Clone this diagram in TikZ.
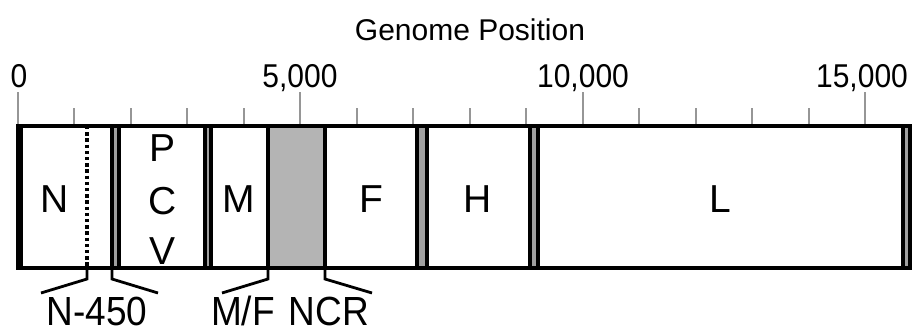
\documentclass[tikz,border=0pt]{standalone}
\usepackage{fontspec}
\setmainfont{Liberation Sans}
\usepackage{graphicx}
\definecolor{gapgray}{RGB}{160,160,160}
\definecolor{ncrgray}{RGB}{180,180,180}
\definecolor{tickgray}{RGB}{150,150,150}
\newcommand{\axisfont}{\fontsize{30}{34}\selectfont}
\newcommand{\genefont}{\fontsize{39}{44}\selectfont}
\newcommand{\lblfont}{\fontsize{37}{42}\selectfont}
\newcommand{\tall}[1]{\scalebox{1}[1.1]{#1}}
\begin{document}
\begin{tikzpicture}[x=1pt,y=-1pt,
  genebox/.style={draw=black, fill=white, line width=3.5pt, minimum height=142pt, inner sep=0pt, outer sep=0pt},
  ncrbox/.style={genebox, fill=ncrgray},
  genelbl/.style={font=\genefont, inner sep=0pt},
  axlbl/.style={font=\axisfont, anchor=base, inner sep=0pt},
  minortick/.style={draw=tickgray, line width=2pt},
  majortick/.style={draw=tickgray, line width=2pt},
  arm/.style={draw=black, line width=2.8pt, line join=miter},
  bottomlbl/.style={font=\lblfont, anchor=base, inner sep=0pt}]
\useasboundingbox (0,0) rectangle (912,329);
% axis title
\node[axlbl] (title) at (470,41) {Genome Position};
% ticks
\foreach \k in {1,2,3,4,6,7,8,9,11,12,13,14}
  \draw[minortick] ({18+\k*56.47},108) -- ({18+\k*56.47},126);
\foreach \k in {0,5,10,15}
  \draw[majortick] ({18+\k*56.47},92) -- ({18+\k*56.47},126);
\node[axlbl] (l0) at (19,87) {\tall{0}};
\node[axlbl] (l5) at (300,87) {\tall{5,000}};
\node[axlbl] (l10) at (583,87) {\tall{10,000}};
\node[axlbl] (l15) at (862,87) {\tall{15,000}};
% outer genome frame (intergenic gaps grey)
\node[genebox, fill=gapgray, minimum width=892pt] (genome) at (464,197) {};
% genes
\node[genebox, minimum width=91pt] (N) at (66.5,197) {};
\node[genebox, minimum width=86pt] (PCV) at (162,197) {};
\node[genebox, minimum width=57pt] (M) at (239.5,197) {};
\node[ncrbox, minimum width=57pt] (NCR) at (296.5,197) {};
\node[genebox, minimum width=92pt] (F) at (371,197) {};
\node[genebox, minimum width=103pt] (H) at (478.5,197) {};
\node[genebox, minimum width=365pt] (L) at (720.5,197) {};
% N-450 boundary (dotted)
\coordinate (n450x) at (87,197);
\coordinate (n450top) at (n450x |- N.north);
\coordinate (n450bot) at (n450x |- N.south);
\draw[black, line width=3.6pt, dash pattern=on 3.4pt off 2.8pt] (n450top) -- (n450bot);
% gene letters
\node[genelbl] (tN) at (55,199) {N};
\node[genelbl] (tP) at (163,148) {P};
\node[genelbl] (tC) at (163,201) {C};
\node[genelbl] (tV) at (163,251) {V};
\node[genelbl] (tM) at (239,199) {M};
\node[genelbl] (tF) at (371,199) {F};
\node[genelbl] (tH) at (478,199) {H};
\node[genelbl] (tL) at (720,199) {L};
% bottom labels
\node[bottomlbl] (lN450) at (97,325) {\tall{N-450}};
\node[bottomlbl] (lMF) at (243,325) {\tall{M/F}};
\node[bottomlbl] (lNCR) at (329,325) {\tall{NCR}};
% bracket arms
\coordinate (a1) at (41,293);
\coordinate (a2) at (158,293);
\coordinate (a3) at (222,293);
\coordinate (a4) at (372,293);
\draw[arm] (n450bot) -- ++(0,11) -- (a1);
\draw[arm] (N.south east) -- ++(0,11) -- (a2);
\draw[arm] (M.south east) -- ++(0,11) -- (a3);
\draw[arm] (NCR.south east) -- ++(0,11) -- (a4);
\end{tikzpicture}
\end{document}
